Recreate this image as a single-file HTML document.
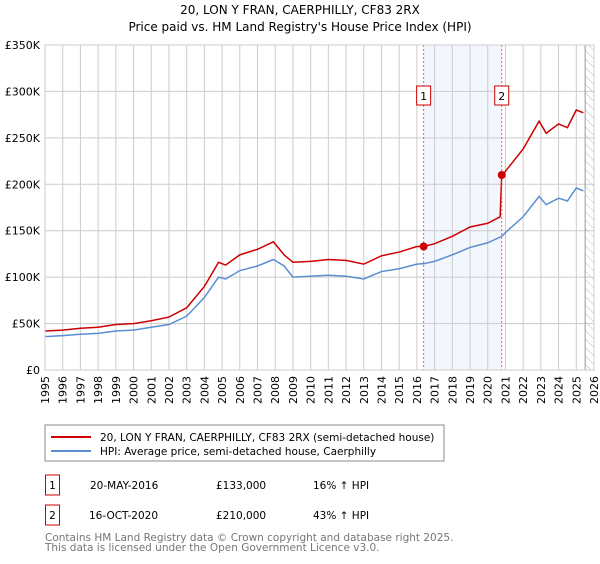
<!DOCTYPE html>
<html><head><meta charset="utf-8"><style>
body{margin:0;background:#fff;font-family:"DejaVu Sans","Liberation Sans",sans-serif;}
svg text{font-family:"DejaVu Sans","Liberation Sans",sans-serif;}
</style></head><body>
<svg id="c" width="600" height="560" xmlns="http://www.w3.org/2000/svg">
<defs><pattern id="hatch" width="6" height="6" patternUnits="userSpaceOnUse" patternTransform="rotate(-45)"><line x1="0" y1="0" x2="0" y2="6" stroke="#bbb" stroke-width="1"/></pattern></defs>
<text x="300" y="14" text-anchor="middle" font-size="12">20, LON Y FRAN, CAERPHILLY, CF83 2RX</text>
<text x="300" y="31" text-anchor="middle" font-size="12">Price paid vs. HM Land Registry's House Price Index (HPI)</text>
<g id="plot"></g>
<rect x="45" y="425" width="399" height="36" fill="#fff" stroke="#888"/>
<line x1="51" y1="437" x2="91" y2="437" stroke="#cc0000" stroke-width="2"/>
<text x="100" y="441" font-size="10.5">20, LON Y FRAN, CAERPHILLY, CF83 2RX (semi-detached house)</text>
<line x1="51" y1="451" x2="91" y2="451" stroke="#5b8ed0" stroke-width="2"/>
<text x="100" y="455" font-size="10.5">HPI: Average price, semi-detached house, Caerphilly</text>
<rect x="45.5" y="475" width="14" height="20" fill="#fff" stroke="#cc0000"/>
<text x="52.5" y="489" font-size="10.5" text-anchor="middle">1</text>
<text x="90" y="489" font-size="10.5">20-MAY-2016</text>
<text x="216" y="489" font-size="10.5">£133,000</text>
<text x="313" y="489" font-size="10.5">16% ↑ HPI</text>
<rect x="45.5" y="505" width="14" height="20" fill="#fff" stroke="#cc0000"/>
<text x="52.5" y="519" font-size="10.5" text-anchor="middle">2</text>
<text x="89" y="519" font-size="10.5">16-OCT-2020</text>
<text x="216" y="519" font-size="10.5">£210,000</text>
<text x="313" y="519" font-size="10.5">43% ↑ HPI</text>
<text x="45" y="541" font-size="10.5" fill="#777">Contains HM Land Registry data © Crown copyright and database right 2025.</text>
<text x="45" y="551" font-size="10.5" fill="#777">This data is licensed under the Open Government Licence v3.0.</text>
</svg>
<script>
const yTicks=[0,50,100,150,200,250,300,350];
const yLabels=["£0","£50K","£100K","£150K","£200K","£250K","£300K","£350K"];
const years=[1995,1996,1997,1998,1999,2000,2001,2002,2003,2004,2005,2006,2007,2008,2009,2010,2011,2012,2013,2014,2015,2016,2017,2018,2019,2020,2021,2022,2023,2024,2025,2026];
const hpiX=[1995,1996,1997,1998,1999,2000,2001,2002,2003,2004,2004.8,2005.2,2006,2007,2007.9,2008.5,2009,2010,2011,2012,2013,2014,2015,2016,2016.4,2017,2018,2019,2020,2020.8,2021,2022,2022.9,2023.3,2024,2024.5,2025,2025.4];
const hpiY=[36,37,38.5,39.5,42,43,46,49,58,78,100,98,107,112,119,112,100,101,102,101,98,106,109,114,114.5,117,124,132,137,144,148,165,187,178,185,182,196,193];
const propX=[1995,1996,1997,1998,1999,2000,2001,2002,2003,2004,2004.8,2005.2,2006,2007,2007.9,2008.5,2009,2010,2011,2012,2013,2014,2015,2016,2016.4,2017,2018,2019,2020,2020.7,2020.79,2021,2022,2022.9,2023.3,2024,2024.5,2025,2025.4];
const propY=[42,43,45,46,49,50,53,57,67,90,116,113,124,130,138,124,116,117,119,118,114,123,127,133,133,136,144,154,158,165,210,214,238,268,255,265,261,280,277];
const saleX=[2016.38,2020.79];
const saleY=[133,210];
const saleLabels=["1","2"];
const ns="http://www.w3.org/2000/svg";
const L=45,R=594,T=45,B=370;
const x=v=>L+(v-1995)/(2026-1995)*(R-L);
const y=v=>B-v/350*(B-T);
const g=document.getElementById('plot');
function mk(t,a){const e=document.createElementNS(ns,t);for(const k in a)e.setAttribute(k,a[k]);g.appendChild(e);return e;}
let e;
e=mk('rect',{x:x(saleX[0]),y:T,width:x(saleX[1])-x(saleX[0]),height:B-T,fill:'#f2f6fd'});


e=mk('rect',{x:x(2025.5),y:T,width:R-x(2025.5),height:B-T,fill:'url(#hatch)'});


yTicks.forEach((t,i)=>{
 e=mk('line',{x1:L,x2:R,y1:y(t),y2:y(t),stroke:'#ccc'});
 
 
 e=mk('text',{x:40,y:y(t)+4,'text-anchor':'end','font-size':'11'});e.textContent=yLabels[i];
 
 
});
years.forEach(yr=>{
 e=mk('line',{x1:x(yr),x2:x(yr),y1:T,y2:B,stroke:'#ccc'});
 
 
 e=mk('text',{x:0,y:0,'font-size':'11','text-anchor':'end',transform:`translate(${x(yr)+4},${B+6}) rotate(-90)`});e.textContent=yr;
 
 
});
e=mk('line',{x1:x(2025.5),x2:x(2025.5),y1:T,y2:B,stroke:'#999'});


e=mk('polyline',{points:hpiX.map((v,i)=>x(v)+','+y(hpiY[i])).join(' '),fill:'none',stroke:'#5b8ed0','stroke-width':1.5});


e=mk('polyline',{points:propX.map((v,i)=>x(v)+','+y(propY[i])).join(' '),fill:'none',stroke:'#cc0000','stroke-width':1.5});


saleX.forEach((s,i)=>{
 e=mk('line',{x1:x(s),x2:x(s),y1:T,y2:B,stroke:'#e06060','stroke-dasharray':'2,2'});
 
 
 e=mk('circle',{cx:x(s),cy:y(saleY[i]),r:4,fill:'#cc0000'});
 
 
 e=mk('rect',{x:x(s)-7,y:86,width:14,height:19,fill:'#fff',stroke:'#cc0000'});
 
 
 e=mk('text',{x:x(s),y:100,'text-anchor':'middle','font-size':'11'});e.textContent=saleLabels[i];
 
 
});
e=mk('rect',{x:L,y:T,width:R-L,height:B-T,fill:'none',stroke:'#ccc'});


</script>
</body></html>
